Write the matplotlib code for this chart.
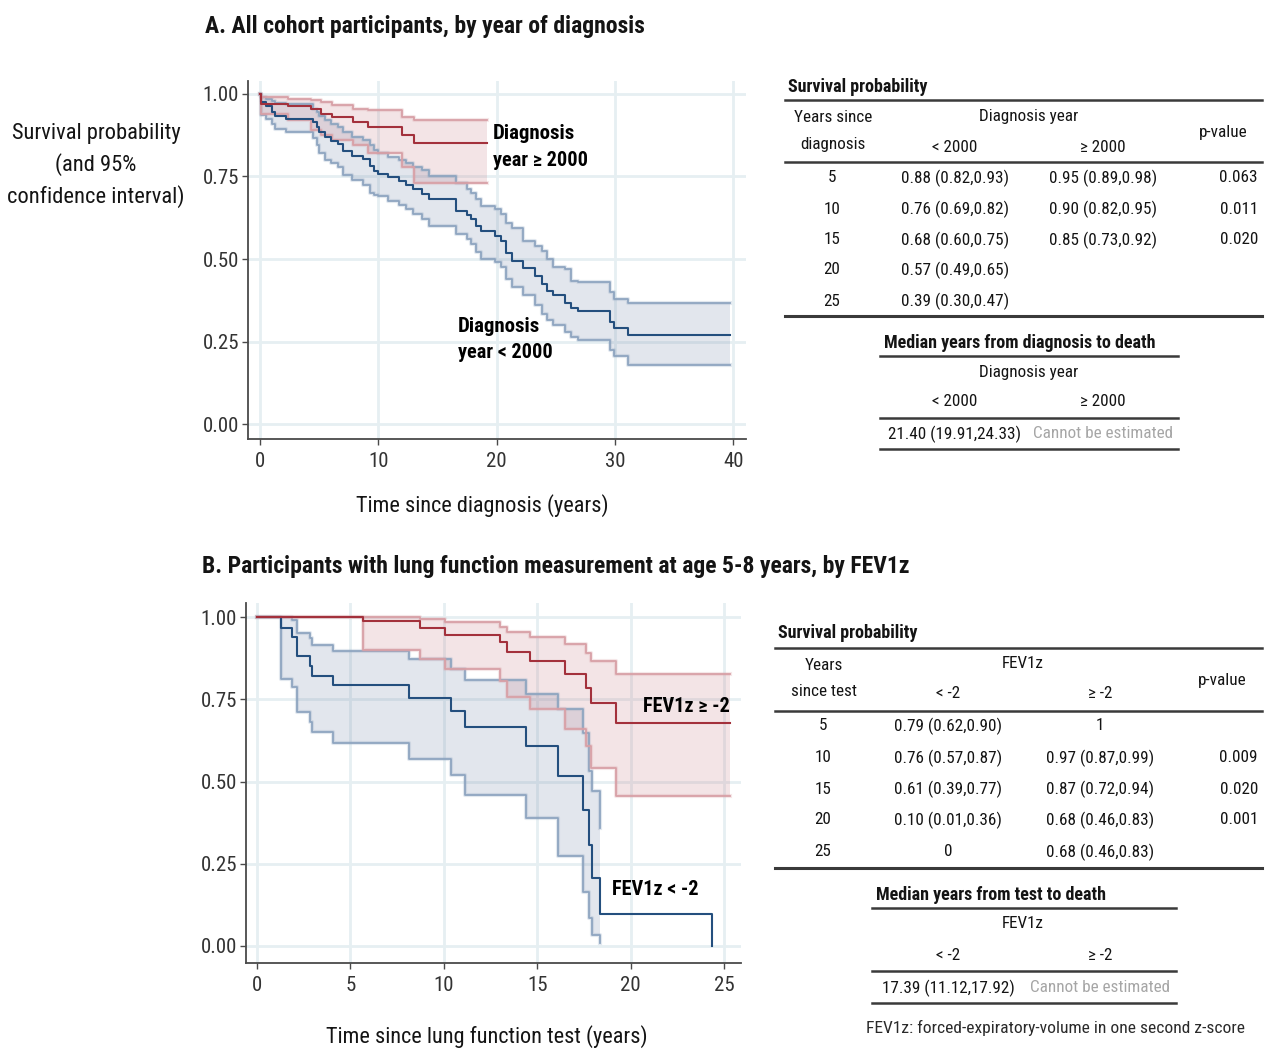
import numpy as np
import matplotlib
matplotlib.use("Agg")
import matplotlib.pyplot as plt
from matplotlib import font_manager
from matplotlib.lines import Line2D

# ---------------------------------------------------------------------------
# Kaplan-Meier estimates (event time, survival, lower 95% CI, upper 95% CI)
# ---------------------------------------------------------------------------
# A: diagnosed before 2000
pre2000_time = [0.0, 0.1, 0.55, 1.0, 1.3, 2.2, 4.5, 4.8, 4.95, 5.5, 6.0, 6.6, 7.05,
                7.8, 8.7, 9.3, 9.6, 9.95, 10.8, 11.75, 12.35, 12.95, 13.7, 14.3,
                16.6, 17.5, 17.8, 18.3, 18.7, 19.9, 20.4, 20.8, 21.3, 22.2, 23.25,
                23.85, 24.3, 24.8, 25.8, 26.3, 26.9, 29.6, 29.9, 31.1]
pre2000_surv = [1.0, 0.975, 0.963, 0.946, 0.934, 0.924, 0.914, 0.899, 0.884, 0.869,
                0.858, 0.848, 0.828, 0.813, 0.803, 0.782, 0.767, 0.757, 0.747, 0.737,
                0.724, 0.712, 0.696, 0.681, 0.646, 0.632, 0.620, 0.600, 0.585, 0.570,
                0.555, 0.519, 0.494, 0.474, 0.448, 0.423, 0.403, 0.390, 0.367, 0.352,
                0.342, 0.310, 0.291, 0.269]
pre2000_lo = [1.0, 0.935, 0.925, 0.91, 0.895, 0.885, 0.865, 0.845, 0.82, 0.80, 0.79,
              0.78, 0.755, 0.74, 0.725, 0.70, 0.695, 0.69, 0.675, 0.665, 0.65, 0.635,
              0.62, 0.60, 0.575, 0.56, 0.545, 0.52, 0.50, 0.49, 0.475, 0.44, 0.415,
              0.39, 0.36, 0.335, 0.315, 0.30, 0.28, 0.265, 0.255, 0.225, 0.205, 0.18]
pre2000_hi = [1.0, 0.99, 0.985, 0.978, 0.972, 0.968, 0.955, 0.945, 0.932, 0.92, 0.91,
              0.90, 0.885, 0.87, 0.86, 0.845, 0.83, 0.82, 0.81, 0.80, 0.79, 0.78,
              0.77, 0.752, 0.73, 0.712, 0.70, 0.681, 0.661, 0.652, 0.636, 0.61, 0.595,
              0.555, 0.54, 0.524, 0.499, 0.475, 0.469, 0.433, 0.43, 0.40, 0.38, 0.367]
pre2000_end = 39.7

# A: diagnosed in 2000 or later
post2000_time = [0.0, 0.1, 2.4, 4.3, 5.2, 6.05, 7.9, 9.1, 12.0, 13.0]
post2000_surv = [1.0, 0.97, 0.962, 0.953, 0.94, 0.93, 0.915, 0.90, 0.875, 0.85]
post2000_lo = [1.0, 0.94, 0.92, 0.89, 0.875, 0.86, 0.845, 0.82, 0.78, 0.73]
post2000_hi = [1.0, 0.99, 0.985, 0.98, 0.975, 0.965, 0.955, 0.95, 0.93, 0.92]
post2000_end = 19.2

# B: FEV1z < -2
fevlow_time = [0.0, 1.27, 1.86, 2.16, 2.84, 2.93, 4.05, 8.15, 10.37, 11.13, 14.4,
               16.13, 17.43, 17.79, 17.92, 18.36, 24.37]
fevlow_surv = [1.0, 0.968, 0.940, 0.882, 0.852, 0.821, 0.793, 0.755, 0.714, 0.666,
               0.608, 0.518, 0.413, 0.308, 0.206, 0.098, 0.0]
fevlow_lo = [1.0, 0.811, 0.786, 0.712, 0.682, 0.651, 0.618, 0.567, 0.521, 0.46,
             0.388, 0.274, 0.163, 0.084, 0.034, 0.01, np.nan]
fevlow_hi = [1.0, 1.0, 0.99, 0.953, 0.938, 0.916, 0.897, 0.872, 0.841, 0.809,
             0.765, 0.72, 0.649, 0.531, 0.47, 0.36, np.nan]
fevlow_end = None

# B: FEV1z >= -2
fevhigh_time = [0.0, 5.7, 8.75, 10.05, 13.0, 13.4, 14.6, 16.5, 17.6, 17.9, 19.2]
fevhigh_surv = [1.0, 0.987, 0.966, 0.945, 0.923, 0.895, 0.867, 0.826, 0.784, 0.738, 0.677]
fevhigh_lo = [1.0, 0.899, 0.872, 0.841, 0.806, 0.758, 0.72, 0.659, 0.608, 0.542, 0.457]
fevhigh_hi = [1.0, 1.0, 0.993, 0.984, 0.969, 0.955, 0.941, 0.918, 0.892, 0.867, 0.826]
fevhigh_end = 25.3

# Axis ticks
a_xticks = [0, 10, 20, 30, 40]
b_xticks = [0, 5, 10, 15, 20, 25]
yticks = [0.0, 0.25, 0.5, 0.75, 1.0]

# Summary tables
row_years = ["5", "10", "15", "20", "25"]
a_col_pre = ["0.88 (0.82,0.93)", "0.76 (0.69,0.82)", "0.68 (0.60,0.75)",
             "0.57 (0.49,0.65)", "0.39 (0.30,0.47)"]
a_col_post = ["0.95 (0.89,0.98)", "0.90 (0.82,0.95)", "0.85 (0.73,0.92)", "", ""]
a_pvals = ["0.063", "0.011", "0.020", "", ""]
a_median = ["21.40 (19.91,24.33)", "Cannot be estimated"]

b_col_low = ["0.79 (0.62,0.90)", "0.76 (0.57,0.87)", "0.61 (0.39,0.77)",
             "0.10 (0.01,0.36)", "0"]
b_col_high = ["1", "0.97 (0.87,0.99)", "0.87 (0.72,0.94)", "0.68 (0.46,0.83)",
              "0.68 (0.46,0.83)"]
b_pvals = ["", "0.009", "0.020", "0.001", ""]
b_median = ["17.39 (11.12,17.92)", "Cannot be estimated"]

# ---------------------------------------------------------------------------
# Fonts
# ---------------------------------------------------------------------------
available = {f.name for f in font_manager.fontManager.ttflist}
narrow = None
for name in ["Roboto Condensed", "Liberation Sans Narrow", "Open Sans Condensed"]:
    if name in available:
        narrow = name
        break
if narrow is None:
    narrow = "Liberation Sans"
    K = 0.82
else:
    K = 1.0
plt.rcParams["font.family"] = [narrow, "DejaVu Sans"]

# ---------------------------------------------------------------------------
# Figure helpers (pixel positions on a 1266 x 1050 canvas)
# ---------------------------------------------------------------------------
W, H = 1266, 1050
fig = plt.figure(figsize=(W / 100, H / 100), dpi=100)
fig.patch.set_facecolor("white")


def fx(px):
    return px / W


def fy(py):
    return 1 - py / H


def ftext(x, y, s, size, ha="center", weight="normal", color="#141414"):
    fig.text(fx(x), fy(y), s, ha=ha, va="center", fontsize=size * K,
             fontweight=weight, color=color)


def hrule(x0, x1, y, lw=1.6, color="#3a3a3a"):
    fig.add_artist(Line2D([fx(x0), fx(x1)], [fy(y), fy(y)],
                          transform=fig.transFigure, color=color, lw=lw))


BLUE_LINE = "#244f7e"
BLUE_CI = "#8ea5c0"
BLUE_FILL = "#7d8fae"
RED_LINE = "#a3313c"
RED_CI = "#d8a0a6"
RED_FILL = "#c67a84"


def ci_band(ax, t, lo, hi, end, ci_color, fill_color, fill_alpha):
    t = np.asarray(t, float)
    lo = np.asarray(lo, float)
    hi = np.asarray(hi, float)
    ok = ~np.isnan(lo)
    tc, lc, hc = t[ok], lo[ok], hi[ok]
    if end is not None and ok[-1]:
        tc = np.append(tc, end)
        lc = np.append(lc, lc[-1])
        hc = np.append(hc, hc[-1])
    ax.fill_between(tc, lc, hc, step="post", color=fill_color, alpha=fill_alpha,
                    lw=0, zorder=2)
    for v in (lc, hc):
        ax.step(tc, v, where="post", color=ci_color, lw=3.0, alpha=0.25, zorder=3)
        ax.step(tc, v, where="post", color=ci_color, lw=1.3, zorder=3)


def km_line(ax, t, s, end, color):
    t = np.asarray(t, float)
    s = np.asarray(s, float)
    if end is not None:
        t = np.append(t, end)
        s = np.append(s, s[-1])
    ax.step(t, s, where="post", color=color, lw=1.5, zorder=4)


def style_axes(ax, xticks):
    for side in ("top", "right"):
        ax.spines[side].set_visible(False)
    for side in ("left", "bottom"):
        ax.spines[side].set_color("#4a4a4a")
        ax.spines[side].set_linewidth(1.3)
    ax.set_xticks(xticks)
    ax.set_xticklabels([str(v) for v in xticks])
    ax.set_yticks(yticks)
    ax.set_yticklabels([f"{v:.2f}" for v in yticks])
    ax.tick_params(axis="both", direction="out", length=4.5, width=1.0,
                   color="#4a4a4a", labelcolor="#333333", labelsize=15 * K)
    ax.tick_params(axis="x", pad=5)
    ax.tick_params(axis="y", pad=2)
    ax.grid(True, color="#e6eff2", lw=2.0)
    ax.set_axisbelow(True)


# ---------------------------------------------------------------------------
# Panel A
# ---------------------------------------------------------------------------
axA = fig.add_axes([fx(248), fy(439), (746 - 248) / W, (439 - 81) / H])
axA.set_xlim(-1.01, 41.08)
axA.set_ylim(-0.045, 1.039)
style_axes(axA, a_xticks)

ci_band(axA, pre2000_time, pre2000_lo, pre2000_hi, pre2000_end, BLUE_CI, BLUE_FILL, 0.22)
ci_band(axA, post2000_time, post2000_lo, post2000_hi, post2000_end, RED_CI, RED_FILL, 0.20)
km_line(axA, pre2000_time, pre2000_surv, pre2000_end, BLUE_LINE)
km_line(axA, post2000_time, post2000_surv, post2000_end, RED_LINE)

axA.text(19.7, 0.879, "Diagnosis", fontsize=15 * K, fontweight="bold", va="center", ha="left")
axA.text(19.7, 0.797, "year \u2265 2000", fontsize=14.6 * K, fontweight="bold", va="center", ha="left")
axA.text(16.75, 0.297, "Diagnosis", fontsize=15 * K, fontweight="bold", va="center", ha="left")
axA.text(16.75, 0.218, "year < 2000", fontsize=14.6 * K, fontweight="bold", va="center", ha="left")

ftext(205, 26, "A. All cohort participants, by year of diagnosis", 17, ha="left", weight="bold")
ftext(96, 134, "Survival probability", 16.2)
ftext(96, 165, "(and 95%", 16.2)
ftext(96, 197, "confidence interval)", 16.2)
ftext(482, 506, "Time since diagnosis (years)", 16)

# ---------------------------------------------------------------------------
# Panel B
# ---------------------------------------------------------------------------
axB = fig.add_axes([fx(246), fy(963), (741 - 246) / W, (963 - 603) / H])
axB.set_xlim(-0.59, 25.91)
axB.set_ylim(-0.052, 1.043)
style_axes(axB, b_xticks)

ci_band(axB, fevlow_time, fevlow_lo, fevlow_hi, fevlow_end, BLUE_CI, BLUE_FILL, 0.22)
ci_band(axB, fevhigh_time, fevhigh_lo, fevhigh_hi, fevhigh_end, RED_CI, RED_FILL, 0.20)
km_line(axB, fevlow_time, fevlow_surv, fevlow_end, BLUE_LINE)
km_line(axB, fevhigh_time, fevhigh_surv, fevhigh_end, RED_LINE)

axB.text(20.66, 0.729, "FEV1z \u2265 -2", fontsize=14.6 * K, fontweight="bold", va="center", ha="left")
axB.text(19.0, 0.173, "FEV1z < -2", fontsize=14.6 * K, fontweight="bold", va="center", ha="left")

ftext(202, 567, "B. Participants with lung function measurement at age 5-8 years, by FEV1z",
      17, ha="left", weight="bold")
ftext(487, 1037, "Time since lung function test (years)", 16)

# ---------------------------------------------------------------------------
# Tables
# ---------------------------------------------------------------------------
TS = 12.3
HS = 13.0
GRAY = "#a6a6a6"

# Table A
ftext(788, 87, "Survival probability", HS, ha="left", weight="bold")
hrule(785, 1262, 100, lw=1.8)
ftext(833, 117, "Years since", TS)
ftext(833, 144, "diagnosis", TS)
ftext(1029, 117, "Diagnosis year", TS)
ftext(955, 147, "< 2000", TS)
ftext(1103, 147, "\u2265 2000", TS)
ftext(1223, 132, "p-value", TS)
hrule(785, 1262, 162, lw=1.8)
for i, y in enumerate([178, 209, 240, 270, 301]):
    ftext(832, y, row_years[i], TS)
    ftext(955, y, a_col_pre[i], TS)
    ftext(1103, y, a_col_post[i], TS)
    ftext(1258, y, a_pvals[i], TS, ha="right")
hrule(785, 1262, 316, lw=2.2)
ftext(884, 343, "Median years from diagnosis to death", HS, ha="left", weight="bold")
hrule(880, 1178, 356, lw=1.8)
ftext(1029, 372, "Diagnosis year", TS)
ftext(955, 402, "< 2000", TS)
ftext(1103, 402, "\u2265 2000", TS)
hrule(880, 1178, 418, lw=1.8)
ftext(955, 434, a_median[0], TS)
ftext(1103, 434, a_median[1], TS, color=GRAY)
hrule(880, 1178, 449, lw=1.8)

# Table B
ftext(778, 633, "Survival probability", HS, ha="left", weight="bold")
hrule(775, 1262, 648, lw=1.8)
ftext(824, 665, "Years", TS)
ftext(824, 692, "since test", TS)
ftext(1023, 663, "FEV1z", TS)
ftext(948, 694, "< -2", TS)
ftext(1100, 694, "\u2265 -2", TS)
ftext(1222, 680, "p-value", TS)
hrule(775, 1262, 711, lw=1.8)
for i, y in enumerate([726, 758, 789, 820, 852]):
    ftext(823, y, row_years[i], TS)
    ftext(948, y, b_col_low[i], TS)
    ftext(1100, y, b_col_high[i], TS)
    ftext(1258, y, b_pvals[i], TS, ha="right")
hrule(775, 1262, 868, lw=2.2)
ftext(876, 895, "Median years from test to death", HS, ha="left", weight="bold")
hrule(872, 1176, 908, lw=1.8)
ftext(1023, 924, "FEV1z", TS)
ftext(948, 956, "< -2", TS)
ftext(1100, 956, "\u2265 -2", TS)
hrule(872, 1176, 971, lw=1.8)
ftext(948, 988, b_median[0], TS)
ftext(1100, 988, b_median[1], TS, color=GRAY)
hrule(872, 1176, 1003, lw=1.8)

ftext(866, 1028, "FEV1z: forced-expiratory-volume in one second z-score", 12.6,
      ha="left", color="#2a2a2a")

fig.savefig("out.png", dpi=100, facecolor="white")
